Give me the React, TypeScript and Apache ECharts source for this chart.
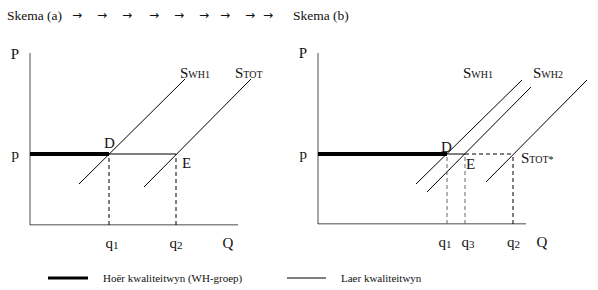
import React, { useEffect, useRef } from "react";
import * as echarts from "echarts";

const FONT = "Liberation Serif, Times New Roman, serif";

// ---------- Panel (a) ----------
const priceA = 7.1;
const quantitiesA = [7.9, 14.6]; // q1, q2
const supplyWH1A = [[4.9, 4.1], [15.5, 14.6]];
const supplyTOTA = [[11.4, 3.8], [22.1, 14.6]];
const axisEndA = [20.8, 17.2];
const xTickValuesA = [8.2, 14.6, 19.8];
const xTickLabelsA = ["q{s|1}", "q{s|2}", "Q"];
const yTickValuesA = [7.1, 17.1];
const yTickLabelsA = ["p", "P"];

// ---------- Panel (b) ----------
const priceB = 7.0;
const quantitiesB = [12.9, 14.7, 19.5]; // q1, q3, q2
const supplyWH1B = [[9.8, 4.0], [20.4, 14.4]];
const supplyWH2B = [[10.9, 3.2], [21.3, 13.7]];
const supplyTOTB = [[16.8, 4.2], [26.9, 14.4]];
const axisEndB = [20.8, 17.1];
const xTickValuesB = [12.7, 15.0, 19.55, 22.4];
const xTickLabelsB = ["q{s|1}", "q{s|3}", "q{s|2}", "Q"];
const yTickValuesB = [7.0, 17.1];
const yTickLabelsB = ["p", "P"];

// ---------- Texts ----------
const titleA = "Skema (a)";
const titleB = "Skema (b)";
const legendThick = "Hoër kwaliteitwyn (WH-groep)";
const legendThin = "Laer kwaliteitwyn";

const seg = (g: number, data: number[][], style: any) => ({
  type: "line",
  xAxisIndex: g,
  yAxisIndex: g,
  data,
  symbol: "none",
  silent: true,
  lineStyle: { color: "#000", width: 1, cap: "butt", ...style },
});

const DASH = [4, 3];

const nearestLabel = (vals: number[], labels: string[], v: number) => {
  let best = -1;
  let bd = Infinity;
  vals.forEach((x, i) => {
    const d = Math.abs(x - Number(v));
    if (d < bd) {
      bd = d;
      best = i;
    }
  });
  return best >= 0 && bd < 0.05 ? labels[best] : "";
};

const axisPair = (
  g: number,
  max: number,
  xVals: number[],
  xLabels: string[],
  yVals: number[],
  yLabels: string[]
) => {
  const labelRich = {
    s: { fontFamily: FONT, fontSize: 11, color: "#111", verticalAlign: "bottom" },
  };
  return {
    x: {
      type: "value",
      gridIndex: g,
      min: 0,
      max,
      axisLine: { show: false },
      axisTick: { show: false },
      splitLine: { show: false },
      axisLabel: {
        customValues: xVals,
        margin: 10,
        fontFamily: FONT,
        fontSize: 15,
        color: "#111",
        rich: labelRich,
        formatter: (v: number) => nearestLabel(xVals, xLabels, v),
      },
    },
    y: {
      type: "value",
      gridIndex: g,
      min: 0,
      max: 18,
      axisLine: { show: false },
      axisTick: { show: false },
      splitLine: { show: false },
      axisLabel: {
        customValues: yVals,
        margin: 11,
        fontFamily: FONT,
        fontSize: 15,
        color: "#111",
        formatter: (v: number) => nearestLabel(yVals, yLabels, v),
      },
    },
  };
};

const supplyLabel = (x: number, y: number, main: string, sub: string) => ({
  type: "text",
  x,
  y,
  style: {
    text: `{a|${main}}{b|${sub}}`,
    verticalAlign: "middle",
    rich: {
      a: { fontFamily: FONT, fontSize: 15, fill: "#111", verticalAlign: "bottom" },
      b: { fontFamily: FONT, fontSize: 10, fill: "#111", verticalAlign: "bottom", padding: [0, 0, 1, 0] },
    },
  },
});

const plainText = (x: number, y: number, text: string, size = 15, family = FONT) => ({
  type: "text",
  x,
  y,
  style: { text, fontFamily: family, fontSize: size, fill: "#111", verticalAlign: "middle" },
});

export default function App() {
  const ref = useRef<HTMLDivElement>(null);

  useEffect(() => {
    if (!ref.current) return;
    const chart = echarts.init(ref.current, null, { renderer: "svg" });

    const a = axisPair(0, 24, xTickValuesA, xTickLabelsA, yTickValuesA, yTickLabelsA);
    const b = axisPair(1, 27, xTickValuesB, xTickLabelsB, yTickValuesB, yTickLabelsB);

    const [q1A, q2A] = quantitiesA;
    const [q1B, q3B, q2B] = quantitiesB;

    const arrowXs = [72, 97, 122, 149, 174, 199, 220, 245, 263];

    chart.setOption({
      animation: false,
      backgroundColor: "#fff",
      grid: [
        { left: 30, top: 45, width: 240, height: 180 },
        { left: 318, top: 44, width: 270, height: 180 },
      ],
      xAxis: [a.x, b.x],
      yAxis: [a.y, b.y],
      series: [
        // Panel (a) axes
        seg(0, [[0, 0], [0, axisEndA[1]]], { color: "#888", width: 1.5 }),
        seg(0, [[0, 0], [axisEndA[0], 0]], { color: "#111", width: 1.2 }),
        // Panel (a) price lines
        seg(0, [[0, priceA], [q1A, priceA]], { width: 4 }),
        seg(0, [[q1A, priceA], [q2A, priceA]], { width: 1 }),
        // Panel (a) supply curves
        seg(0, supplyWH1A, {}),
        seg(0, supplyTOTA, {}),
        // Panel (a) dashed drops
        seg(0, [[q1A, 0], [q1A, priceA]], { type: DASH }),
        seg(0, [[q2A, 0], [q2A, priceA]], { type: DASH }),

        // Panel (b) axes
        seg(1, [[0, 0], [0, axisEndB[1]]], { color: "#888", width: 1.5 }),
        seg(1, [[0, 0], [axisEndB[0], 0]], { color: "#111", width: 1.2 }),
        // Panel (b) price lines
        seg(1, [[0, priceB], [q1B, priceB]], { width: 4 }),
        seg(1, [[q1B, priceB], [q3B, priceB]], { width: 1 }),
        seg(1, [[q3B, priceB], [q2B, priceB]], { type: DASH }),
        // Panel (b) supply curves
        seg(1, supplyWH1B, {}),
        seg(1, supplyWH2B, {}),
        seg(1, supplyTOTB, {}),
        // Panel (b) dashed drops
        seg(1, [[q1B, 0], [q1B, priceB]], { type: DASH, color: "#666" }),
        seg(1, [[q3B, 0], [q3B, priceB]], { type: DASH, color: "#666" }),
        seg(1, [[q2B, 0], [q2B, priceB]], { type: DASH }),
      ],
      graphic: [
        plainText(7, 15, titleA, 13.5),
        plainText(293, 15, titleB, 13.5),
        ...arrowXs.map((x) => plainText(x, 15, "→", 12, "DejaVu Sans")),
        // Panel (a) labels
        supplyLabel(180, 73, "S", "WH1"),
        supplyLabel(235, 73, "S", "TOT"),
        plainText(104, 143, "D"),
        plainText(182, 163, "E"),
        // Panel (b) labels
        supplyLabel(463, 73, "S", "WH1"),
        supplyLabel(533, 73, "S", "WH2"),
        supplyLabel(521, 158, "S", "TOT*"),
        plainText(441, 147, "D"),
        plainText(466, 164, "E"),
        // Legend
        {
          type: "line",
          shape: { x1: 48, y1: 278, x2: 88, y2: 278 },
          style: { stroke: "#000", lineWidth: 3 },
        },
        plainText(103, 278, legendThick, 11),
        {
          type: "line",
          shape: { x1: 287, y1: 278, x2: 326, y2: 278 },
          style: { stroke: "#000", lineWidth: 1 },
        },
        plainText(341, 278, legendThin, 11),
      ],
    });

    return () => chart.dispose();
  }, []);

  return (
    <div
      ref={ref}
      style={{ position: "fixed", left: 0, top: 0, width: 598, height: 290 }}
    />
  );
}
